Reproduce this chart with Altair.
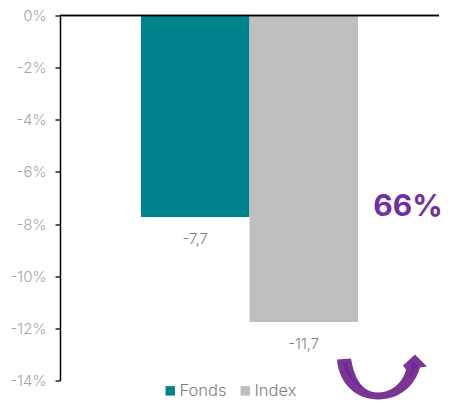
import altair as alt
import pandas as pd

series = ["Fonds", "Index"]
values = [-7.73, -11.76]
labels = ["-7,7", "-11,7"]
colors = ["#00828a", "#bfbfbf"]
callout = ["66%"]

FONT = "Inter"
GREY = "#a6a6a6"
PURPLE = "#7b3594"
TEXT_PURPLE = "#7030a0"
DARK = "#6a2a9e"

df = pd.DataFrame({"series": series, "value": values, "label": labels})

ARROW = ("M-43,-18 L-29,-19 C-27,-8 -22,15 -2,15 C14,15 24,2 26,-8 L23,-12 L35,-23 L47,-11 L40,-10 "
         "C35,8 20,22 -2,22 C-22,22 -41,8 -43,-18 Z")
STRIPE_L = "M-37,-15 L-33,-15 C-31,-3 -24,5 -17,11 C-28,6 -35,-4 -37,-15 Z"
STRIPE_R = "M33,-16 L38,-12 L34,-9 C33,-5 31,-1 29,2 C31,-5 32,-10 31,-13 Z"

y_scale = alt.Scale(domain=[-14, 0], nice=False)
x = alt.X("series:N", scale=alt.Scale(paddingInner=0, paddingOuter=0.7465, domain=series), axis=None)

bars = alt.Chart(df).mark_bar(stroke=None).encode(
    x=x,
    y=alt.Y("value:Q", scale=y_scale, title=None,
            axis=alt.Axis(values=list(range(-14, 1, 2)), labelExpr="datum.value + '%'", grid=False,
                          domainColor="#000000", domainWidth=1.5, tickColor="#222222", tickSize=5, tickWidth=1.5,
                          labelColor=GREY, labelFont=FONT, labelFontSize=15, labelFontWeight=300, labelPadding=9)),
    y2=alt.datum(0),
    color=alt.Color("series:N", scale=alt.Scale(domain=series, range=colors),
                    legend=alt.Legend(orient="none", legendX=102, legendY=367, direction="horizontal", title=None,
                                      symbolType="square", symbolSize=90, symbolStrokeWidth=0, symbolOpacity=1,
                                      labelFont=FONT, labelFontSize=16.5, labelFontWeight=300, labelColor="#7f7f7f",
                                      labelOffset=1, columnPadding=10)),
)

top_line = alt.Chart(df).mark_rule(color="#000000", strokeWidth=1.5).encode(y=alt.datum(0))

texts = alt.Chart(df).mark_text(font=FONT, fontSize=15, fontWeight=300, color="#7f7f7f", baseline="middle", dy=22).encode(
    x=x, y=alt.Y("value:Q", scale=y_scale), text="label:N")

big = alt.Chart(pd.DataFrame({"t": callout})).mark_text(font=FONT, fontSize=30, fontWeight="bold",
                                                        color=TEXT_PURPLE, align="center", baseline="middle").encode(
    x=alt.value(348), y=alt.value(191), text="t:N")


def sym(shape, color):
    return alt.Chart(pd.DataFrame({"k": [0]})).mark_point(shape=shape, size=4, filled=True, fill=color,
                                                          strokeWidth=0, opacity=1).encode(
        x=alt.value(320), y=alt.value(362))


chart = (
    bars + top_line + texts + big + sym(ARROW, PURPLE) + sym(STRIPE_L, DARK) + sym(STRIPE_R, DARK)
).properties(
    width=379, height=365, padding={"left": 52, "top": 7.5, "right": 4, "bottom": 19},
    autosize=alt.AutoSizeParams(type="none"),
).configure_view(stroke=None)

chart.save("out.html", embed_options={"renderer": "svg", "actions": False})
